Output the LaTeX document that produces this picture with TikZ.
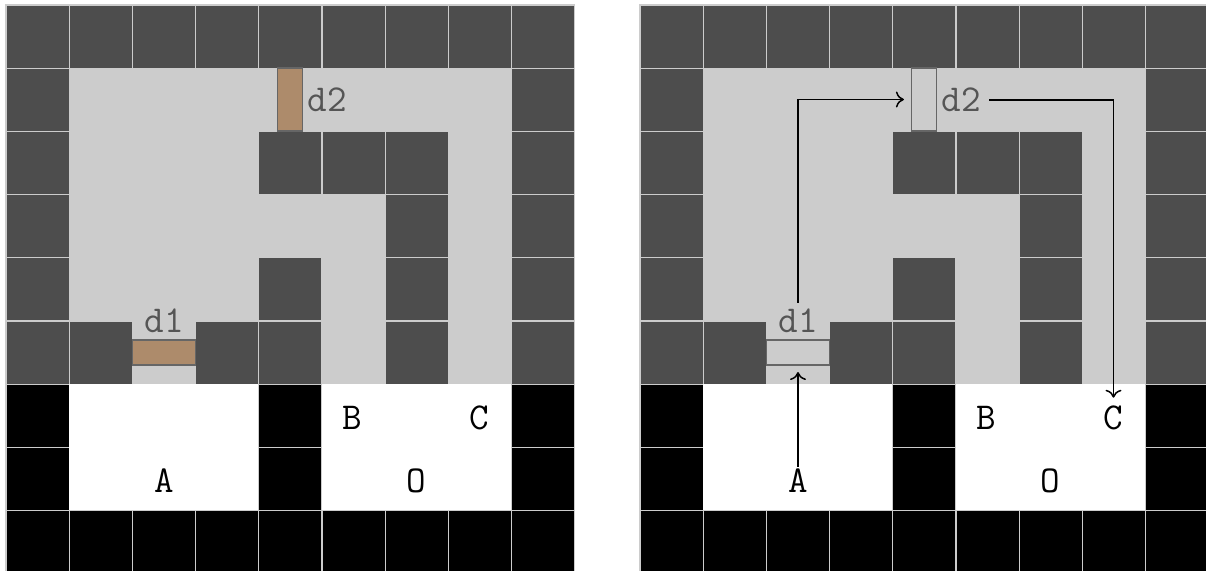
\documentclass[tikz,border=0pt]{standalone}
\usepackage{fontspec}
\usetikzlibrary{arrows.meta}
\definecolor{wall}{HTML}{4D4D4D}
\definecolor{floorc}{HTML}{CCCCCC}
\definecolor{doorc}{HTML}{AD8B6B}
\definecolor{edgec}{HTML}{666666}
\definecolor{labelc}{HTML}{555555}
\tikzset{
  cell/.style={rectangle,minimum width=63.2pt,minimum height=63.2pt,inner sep=0pt,line width=1.3pt},
  cellD/.style={cell,fill=wall,draw=floorc},
  cellL/.style={cell,fill=floorc,draw=floorc},
  cellK/.style={cell,fill=black,draw=floorc},
  cellW/.style={cell,fill=white},
  doorbox/.style={rectangle,inner sep=0pt,line width=1.2pt,draw=edgec},
  lab/.style={font=\fontsize{38}{38}\ttfamily,inner sep=0pt,text=black},
  doorlab/.style={lab,text=labelc},
  conn/.style={-{Computer Modern Rightarrow[length=8pt,width=16pt]},black,line width=1.5pt}
}
\begin{document}
\begin{tikzpicture}[x=1pt,y=-1pt]
\clip (0,0) rectangle (1206,570);
\foreach \ox/\p/\dfill in {6/a/doorc,640/b/floorc}{
  \foreach \r/\row in {
    0/{D,D,D,D,D,D,D,D,D},
    1/{D,L,L,L,L,L,L,L,D},
    2/{D,L,L,L,D,D,D,L,D},
    3/{D,L,L,L,L,L,D,L,D},
    4/{D,L,L,L,D,L,D,L,D},
    5/{D,D,L,D,D,L,D,L,D},
    6/{K,W,W,W,K,W,W,W,K},
    7/{K,W,W,W,K,W,W,W,K},
    8/{K,K,K,K,K,K,K,K,K}}{
    \foreach \t [count=\c from 0] in \row {
      \node[cell\t] (\p-\r-\c) at ({\ox+31.6+63.2*\c},{5+31.6+63.2*\r}) {};
    }
  }
  \node[doorbox,fill=\dfill,minimum width=63.2pt,minimum height=25pt] (\p-door1) at (\ox+158,352.5) {};
  \node[doorbox,fill=\dfill,minimum width=25pt,minimum height=63pt] (\p-door2) at (\ox+284,99.5) {};
  \node[doorlab] (\p-d1) at (\ox+158,321) {d1};
  \node[doorlab] (\p-d2) at (\ox+321.5,100) {d2};
  \node[lab] (\p-A) at (\ox+158,481) {A};
  \node[lab] (\p-B) at (\ox+346.5,418) {B};
  \node[lab] (\p-C) at (\ox+473.5,418) {C};
  \node[lab] (\p-O) at (\ox+410,481) {O};
}
\coordinate (enter) at (b-door1.south |- 0,372);
\draw[conn,shorten <=2pt] (b-A.north) -- (enter);
\draw[conn,shorten <=6pt,shorten >=7pt] (b-d1.north) |- (b-door2.west);
\draw[conn,shorten <=8pt,shorten >=8pt] (b-d2.east) -| (b-C.north);
\end{tikzpicture}
\end{document}
